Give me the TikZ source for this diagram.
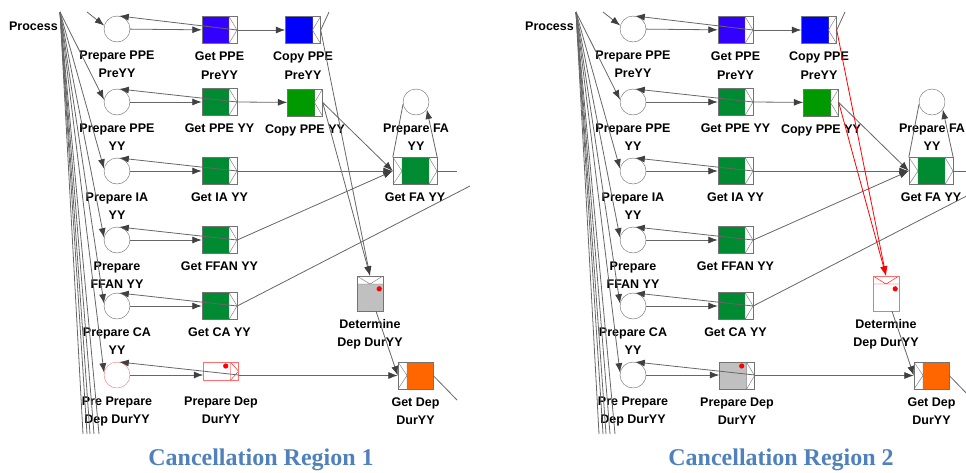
\documentclass[tikz,border=0pt]{standalone}
\usepackage{fontspec}
\setmainfont{Liberation Sans}
\newfontfamily\capfont{Liberation Serif}
\usetikzlibrary{arrows.meta}

\definecolor{ppeblue}{RGB}{51,0,255}
\definecolor{copyblue}{RGB}{0,0,255}
\definecolor{taskgreen}{RGB}{0,139,51}
\definecolor{copygreen}{RGB}{0,153,0}
\definecolor{depgrey}{RGB}{192,192,192}
\definecolor{deporange}{RGB}{255,102,0}
\definecolor{palered}{RGB}{255,110,110}
\definecolor{capblue}{RGB}{79,129,189}

\newcommand{\tasklabelfont}{\fontsize{12.5pt}{18.5pt}\selectfont\bfseries}
\newcommand{\ppb}{path picture bounding box}

\tikzset{
  place/.style={circle, draw=black!60, fill=white, minimum size=26pt, inner sep=0pt},
  task/.style={draw=black!55, fill=white, inner sep=0pt, minimum width=35pt, minimum height=27pt},
  lbl/.style={font=\tasklabelfont, align=center, inner sep=0pt},
  wire/.style={draw=black!60, line width=0.8pt},
  flow/.style={wire, -{Latex[length=9.5pt,width=7pt,color=black!75]}},
  alarm/.style={draw=red, -{Latex[length=9.5pt,width=7pt,color=red]}},
  % task with a split strip on the right
  getT/.style 2 args={task, path picture={
      \fill[#1] (\ppb.north west) rectangle ([xshift=-8pt]\ppb.south east);
      \draw[#2] ([xshift=-8pt]\ppb.north east) -- ([xshift=-8pt]\ppb.south east)
        ([xshift=-8pt]\ppb.north east) -- (\ppb.east) -- ([xshift=-8pt]\ppb.south east);}},
  copyT/.style={task, path picture={
      \fill[#1] (\ppb.north west) rectangle ([xshift=-8pt]\ppb.south east);
      \draw[black!55] ([xshift=-8pt]\ppb.north east) -- ([xshift=-8pt]\ppb.south east)
        (\ppb.north east) -- ([xshift=-8pt]\ppb.east) -- (\ppb.south east);}},
  % join strip on the left and split strip on the right
  faT/.style={task, minimum width=44pt, path picture={
      \fill[#1] ([xshift=9pt]\ppb.north west) rectangle ([xshift=-8pt]\ppb.south east);
      \draw[black!55] ([xshift=9pt]\ppb.north west) -- ([xshift=9pt]\ppb.south west)
        (\ppb.north west) -- ([xshift=9pt]\ppb.west) -- (\ppb.south west)
        ([xshift=-8pt]\ppb.north east) -- ([xshift=-8pt]\ppb.south east)
        ([xshift=-8pt]\ppb.north east) -- (\ppb.east) -- ([xshift=-8pt]\ppb.south east);}},
  joinT/.style={task, path picture={
      \fill[#1] ([xshift=9pt]\ppb.north west) rectangle (\ppb.south east);
      \draw[black!55] ([xshift=9pt]\ppb.north west) -- ([xshift=9pt]\ppb.south west)
        (\ppb.north west) -- ([xshift=9pt]\ppb.west) -- (\ppb.south west);}},
  % join strip on top
  detT/.style 2 args={task, minimum width=26pt, minimum height=35pt, path picture={
      \fill[#1] ([yshift=-8pt]\ppb.north west) rectangle (\ppb.south east);
      \draw[#2] ([yshift=-8pt]\ppb.north west) -- ([yshift=-8pt]\ppb.north east)
        (\ppb.north west) -- ([yshift=-8pt]\ppb.north) -- (\ppb.north east);}},
}

% #1 shift, #2 name prefix, #3 last place, #4 prepare dep task, #5 determine task,
% #6 arcs into determine, #7 extra for the prepare dep label
\newcommand{\regionpanel}[7]{%
\begin{scope}[xshift=#1]
  \node[lbl, anchor=east] (#2proc) at (58,26) {Process};
  \coordinate (#2fan) at (60,12);
  \coordinate (#2top) at (87,12);

  % places
  \node[place, label={[lbl]below:Prepare PPE\\PreYY}] (#2c1) at (117,29) {};
  \node[place, label={[lbl]below:Prepare PPE\\YY}] (#2c2) at (117,102) {};
  \node[place, label={[lbl]below:Prepare IA\\YY}] (#2c3) at (117,171) {};
  \node[place, label={[lbl]below:Prepare\\FFAN YY}] (#2c4) at (117,240) {};
  \node[place, label={[lbl]below:Prepare CA\\YY}] (#2c5) at (117,306) {};
  \node[place, #3, label={[lbl]below:Pre Prepare\\Dep DurYY}] (#2c6) at (117,375) {};
  \node[place, label={[lbl]below:Prepare FA\\YY}] (#2fa) at (416,102) {};

  % tasks
  \node[getT={ppeblue}{black!55}, label={[lbl]below:Get PPE\\PreYY}] (#2g1) at (219.5,30) {};
  \node[getT={taskgreen}{black!55}, label={[lbl]below:Get PPE YY}] (#2g2) at (219.5,102) {};
  \node[getT={taskgreen}{black!55}, label={[lbl]below:Get IA YY}] (#2g3) at (219.5,171) {};
  \node[getT={taskgreen}{black!55}, label={[lbl]below:Get FFAN YY}] (#2g4) at (219.5,240) {};
  \node[getT={taskgreen}{black!55}, label={[lbl]below:Get CA YY}] (#2g5) at (219.5,306) {};
  \node[#4, anchor=north, label={[lbl, #7]below:Prepare Dep\\DurYY}] (#2pd) at (221,362) {};
  \node[copyT=copyblue, label={[lbl]below:Copy PPE\\PreYY}] (#2k1) at (303,30) {};
  \node[copyT=copygreen, label={[lbl]below:Copy PPE YY}] (#2k2) at (305,102.5) {};
  \node[faT=taskgreen, label={[lbl]below:Get FA YY}] (#2gf) at (415,171) {};
  \node[#5, label={[lbl]below:Determine\\Dep DurYY}] (#2det) at (370,293.5) {};
  \node[joinT=deporange, label={[lbl]below:Get Dep\\DurYY}] (#2gd) at (415.5,375.5) {};
  \fill[red] ([xshift=-13pt,yshift=-4pt]#2pd.north east) circle (2.6pt);
  \fill[red] ([xshift=-4pt,yshift=-13pt]#2det.north east) circle (2.6pt);

  % loose ends
  \coordinate (#2exk) at (329,12);
  \coordinate (#2exf) at (457,171);
  \coordinate (#2exc) at (470,186);
  \coordinate (#2exd) at (457,400);
  \coordinate (#2b1) at (83,434);
  \coordinate (#2b2) at (87,434);
  \coordinate (#2b3) at (90,434);
  \coordinate (#2b4) at (94,434);
  \coordinate (#2b5) at (99,434);

  % arcs
  \draw[flow] (#2top) -- (#2c1.165);
  \foreach \i in {2,...,6} \draw[flow] (#2fan) -- (#2c\i.170);
  \foreach \i in {1,...,5} \draw[wire] (#2fan) -- (#2b\i);
  \foreach \i in {1,...,5} {
    \draw[flow] (#2c\i) -- (#2g\i);
    \draw[flow] (#2g\i.east) -- (#2c\i.80);
  }
  \draw[flow] (#2c6) -- (#2pd.west |- #2c6.east);
  \draw[flow] (#2pd.east |- #2c6.east) -- (#2c6.80);
  \draw[flow] (#2pd.east |- #2gd.west) -- (#2gd.west);
  \draw[flow] (#2g1.east) -- (#2k1);
  \draw[flow] (#2g2.east) -- (#2k2);
  \draw[flow] (#2g3.east) -- (#2gf.west);
  \draw[flow] (#2g4.east) -- (#2gf.west);
  \draw[flow] (#2k2.east) -- (#2gf.west);
  \draw[wire] (#2g5.east) -- (#2exc);
  \draw[wire] (#2fa.190) -- (#2gf.north west);
  \draw[flow] (#2gf.north east) -- (#2fa.-35);
  \draw[wire] (#2gf.east) -- (#2exf);
  \draw[wire] (#2k1.east) -- (#2exk);
  \draw[flow, #6] (#2k1.east) -- (#2det.north);
  \draw[flow, #6] (#2k2.east) -- (#2det.north);
  \draw[flow] (#2det) -- (#2gd.west);
  \draw[wire] (#2gd.east) -- (#2exd);
\end{scope}}

\begin{document}
\begin{tikzpicture}[x=1pt, y=-1pt, label distance=8pt]
  \useasboundingbox (0,0) rectangle (966,472);

  \regionpanel{0}{A}{draw=palered}
    {getT={white}{red}, draw=palered, minimum height=18pt}
    {detT={depgrey}{black!55}}{}{yshift=-8pt}
  \regionpanel{516}{B}{}
    {getT={depgrey}{black!55}}
    {detT={white}{red}, draw=palered}{alarm}{}

  \node[font=\capfont\bfseries\fontsize{24pt}{27pt}\selectfont, text=capblue, anchor=base] (cap1) at (261,465.5) {Cancellation Region 1};
  \node[font=\capfont\bfseries\fontsize{24pt}{27pt}\selectfont, text=capblue, anchor=base] (cap2) at (781,465.5) {Cancellation Region 2};
\end{tikzpicture}
\end{document}
